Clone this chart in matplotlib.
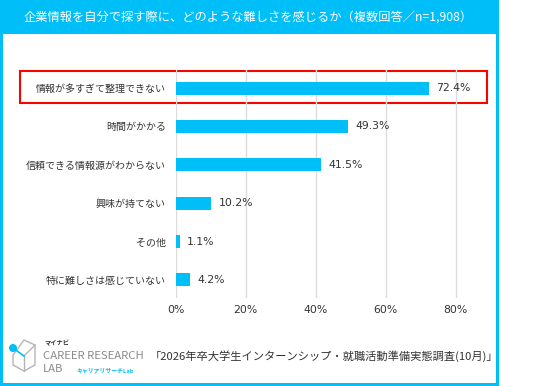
import matplotlib
matplotlib.use('Agg')
import matplotlib.pyplot as plt
from matplotlib.patches import Rectangle, Circle, Polygon

plt.rcParams['font.family'] = ['Noto Sans CJK JP', 'DejaVu Sans']

TITLE = '企業情報を自分で探す際に、どのような難しさを感じるか（複数回答／n=1,908）'
SOURCE = '「2026年卒大学生インターンシップ・就職活動準備実態調査(10月)」'
categories = ['情報が多すぎて整理できない', '時間がかかる', '信頼できる情報源がわからない',
              '興味が持てない', 'その他', '特に難しさは感じていない']
values = [72.4, 49.3, 41.5, 10.2, 1.1, 4.2]
xticks = [0, 20, 40, 60, 80]

W, H = 536, 386
CYAN = '#00bef8'
TEXT = '#333333'
GREY = '#8c8c8c'
NUMFONT = 'DejaVu Sans'

fig = plt.figure(figsize=(W / 100, H / 100), dpi=100)

# background layer in pixel coords: frame, title band, highlight box, logo
bg = fig.add_axes([0, 0, 1, 1], zorder=0)
bg.set_xlim(0, W)
bg.set_ylim(H, 0)
bg.axis('off')

bg.add_patch(Rectangle((1, 1), 495.5, 383, fill=False, ec=CYAN, lw=2.2))
bg.add_patch(Rectangle((0, 0), 497.5, 34, fc=CYAN, ec='none'))
bg.text(248, 17.5, TITLE, color='white', fontsize=8.8, ha='center', va='center')

bg.add_patch(Rectangle((20, 71), 467, 32, fill=False, ec='#ff0000', lw=1.5))

# logo (rough)
bg.add_patch(Polygon([(24, 340), (35, 345), (35, 365), (24, 371), (13, 365), (13, 355)],
                     closed=True, fill=False, ec='#b5b5b5', lw=1.0))
bg.plot([24, 35], [356, 345], color='#b5b5b5', lw=1.0)
bg.plot([24, 24], [356, 371], color='#b5b5b5', lw=1.0)
bg.plot([13, 24], [348, 356], color=CYAN, lw=1.2)
bg.add_patch(Circle((13, 348), 4, fc=CYAN, ec='none'))
bg.text(44, 343, 'マイナビ', fontsize=4.5, fontweight='bold', color=TEXT, va='center')
bg.text(43, 356, 'CAREER RESEARCH', fontsize=8.2, color=GREY, va='center')
bg.text(43, 369, 'LAB', fontsize=8.2, color=GREY, va='center')
bg.text(76, 370, 'キャリアリサーチLab', fontsize=4.2, fontweight='bold', color=CYAN, va='center')

bg.text(150, 356, SOURCE, fontsize=8.1, color=TEXT, ha='left', va='center')

# main bar chart
ax = fig.add_axes([175.7 / W, 88 / H, 315 / W, 228 / H], zorder=1)
ax.patch.set_alpha(0)
y = list(range(len(categories)))
ax.barh(y, values, height=0.34, color=CYAN)
for yi, v in zip(y, values):
    ax.text(v + 2, yi, f'{v:.1f}%', va='center', ha='left', fontsize=7.8,
            color=TEXT, family=NUMFONT)

ax.set_xlim(0, 90)
ax.set_ylim(len(categories) - 0.53, -0.47)
ax.set_xticks(xticks, [f'{t}%' for t in xticks])
ax.set_yticks(y, categories)
ax.grid(axis='x', color='#dcdcdc', lw=1)
ax.set_axisbelow(True)
for s in ax.spines.values():
    s.set_visible(False)
ax.tick_params(axis='y', length=0, pad=7, labelsize=7.2, labelcolor=TEXT)
ax.tick_params(axis='x', length=0, pad=5, labelsize=7.8, labelcolor=TEXT)
for lbl in ax.get_xticklabels():
    lbl.set_family(NUMFONT)

fig.savefig('out.png', dpi=100)
